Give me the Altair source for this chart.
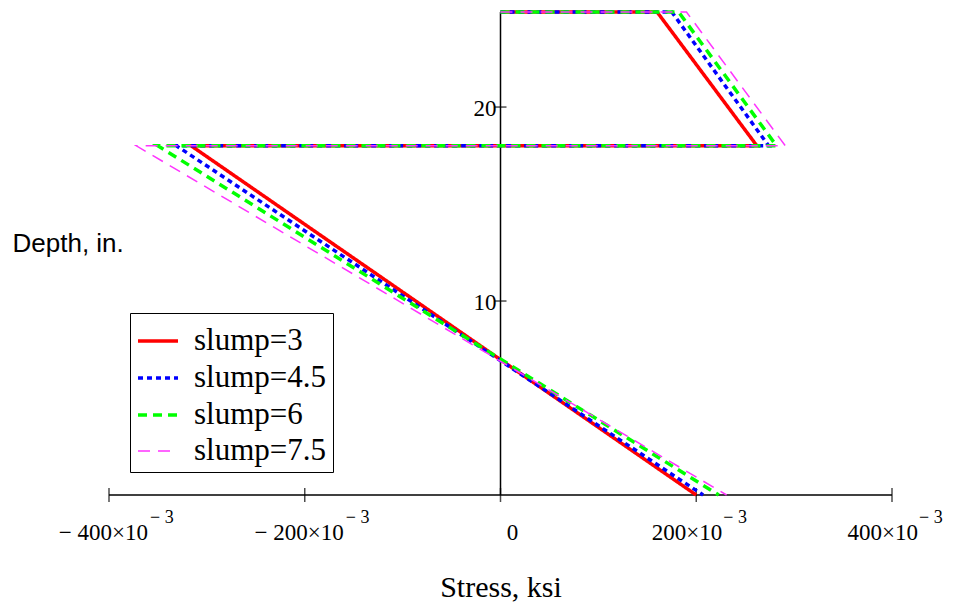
import altair as alt
import pandas as pd

# ---- data ----
series = ["slump=3", "slump=4.5", "slump=6", "slump=7.5"]
top_depth = 24.9
kink_depth = 18.0
top_corner = [0.160, 0.175, 0.182, 0.190]
kink_right = [0.262, 0.274, 0.282, 0.291]
kink_left = [-0.316, -0.331, -0.350, -0.372]
bottom_stress = [0.200, 0.207, 0.223, 0.231]

colors = ["#ff0000", "#0000ff", "#00ff00", "#ff33ff"]
dashes = [[1, 0], [5, 4], [9, 6], [12, 8]]
widths = [3.5, 3.5, 3.5, 1.5]

x_ticks = [-0.4, -0.2, 0.0, 0.2, 0.4]
x_main = ["− 400×10", "− 200×10", "0", "200×10", "400×10"]
x_sup = ["− 3", "− 3", "", "− 3", "− 3"]
y_ticks = [10, 20]
y_labels = ["10", "20"]

SERIF = "Liberation Serif"
SANS = "Liberation Sans"

rows = []
for i, s in enumerate(series):
    pts = [(0.0, top_depth), (top_corner[i], top_depth), (kink_right[i], kink_depth),
           (kink_left[i], kink_depth), (bottom_stress[i], 0.0)]
    for k, (x, y) in enumerate(pts):
        rows.append({"series": s, "stress": x, "depth": y, "pt": k})
df = pd.DataFrame(rows)

xs = alt.Scale(domain=[-0.4, 0.4], nice=False, zero=False)
ys = alt.Scale(domain=[0, top_depth], nice=False, zero=False)

lines = alt.Chart(df).mark_line(clip=False).encode(
    x=alt.X("stress:Q", scale=xs, axis=alt.Axis(
        title="Stress, ksi", labels=False, ticks=False, domain=False, grid=False,
        titleFont=SERIF, titleFontSize=30, titleFontWeight="normal", titleColor="black",
        titleBaseline="alphabetic", titleY=101)),
    y=alt.Y("depth:Q", scale=ys, axis=alt.Axis(
        title="Depth, in.", labels=False, ticks=False, domain=False, grid=False,
        titleAngle=0, titleX=-97, titleY=231, titleAlign="left", titleBaseline="middle",
        titleFont=SANS, titleFontSize=26, titleFontWeight="normal", titleColor="black")),
    color=alt.Color("series:N", title=None, scale=alt.Scale(domain=series, range=colors)),
    strokeDash=alt.StrokeDash("series:N", title=None, scale=alt.Scale(domain=series, range=dashes)),
    strokeWidth=alt.StrokeWidth("series:N", title=None,
                                scale=alt.Scale(type="ordinal", domain=series, range=widths)),
    order="pt:Q",
)

axis_df = pd.DataFrame({"x0": [x_ticks[0]], "x1": [x_ticks[-1]], "y0": [0.0], "y1": [top_depth], "z": [0.0]})
x_axis_line = alt.Chart(axis_df).mark_rule(color="black", strokeWidth=1.5).encode(
    x="x0:Q", x2="x1:Q", y="z:Q")
y_axis_line = alt.Chart(axis_df).mark_rule(color="black", strokeWidth=1.5).encode(
    x="z:Q", y="y0:Q", y2="y1:Q")

xt = pd.DataFrame({"v": x_ticks, "main": x_main, "sup": x_sup, "z": [0.0] * len(x_ticks)})
yt = pd.DataFrame({"v": y_ticks, "lab": y_labels, "z": [0.0] * len(y_ticks)})

x_tick_marks = alt.Chart(xt).mark_tick(orient="vertical", size=14, thickness=1.5, color="black").encode(
    x="v:Q", y="z:Q")
y_tick_marks = alt.Chart(yt).mark_tick(orient="horizontal", size=12, thickness=1.5, color="black").encode(
    x="z:Q", y="v:Q")

neg = alt.datum.v < 0
pos = alt.datum.v > 0
zero = alt.datum.v == 0

def main_text(filt, dx):
    return alt.Chart(xt).transform_filter(filt).mark_text(
        align="right", baseline="alphabetic", dx=dx, dy=45, font=SERIF, fontSize=23, color="black"
    ).encode(x="v:Q", y="z:Q", text="main:N")

def sup_text(filt, dx):
    return alt.Chart(xt).transform_filter(filt).mark_text(
        align="left", baseline="alphabetic", dx=dx, dy=28, font=SERIF, fontSize=18, color="black"
    ).encode(x="v:Q", y="z:Q", text="sup:N")

zero_text = alt.Chart(xt).transform_filter(zero).mark_text(
    align="center", baseline="alphabetic", dx=12, dy=45, font=SERIF, fontSize=23, color="black"
).encode(x="v:Q", y="z:Q", text="main:N")

y_text = alt.Chart(yt).mark_text(
    align="right", baseline="middle", dx=-4, dy=2, font=SERIF, fontSize=23, color="black"
).encode(x="z:Q", y="v:Q", text="lab:N")

chart = alt.layer(
    x_axis_line, y_axis_line, x_tick_marks, y_tick_marks,
    main_text(neg, 39), sup_text(neg, 41), main_text(pos, 26), sup_text(pos, 27), zero_text,
    y_text, lines,
).properties(
    width=783, height=483,
    autosize=alt.AutoSizeParams(type="none"),
    padding={"left": 101, "top": 4, "right": 53, "bottom": 107},
).configure_view(stroke=None).configure_legend(
    orient="none", legendX=21, legendY=301, strokeColor="black", fillColor="white",
    padding=6, symbolType="stroke", symbolSize=1600, labelFont=SERIF, labelFontSize=31,
    labelColor="black", labelOffset=14, rowPadding=0,
)

chart.save("out.html", embed_options={"renderer": "svg", "actions": False})
